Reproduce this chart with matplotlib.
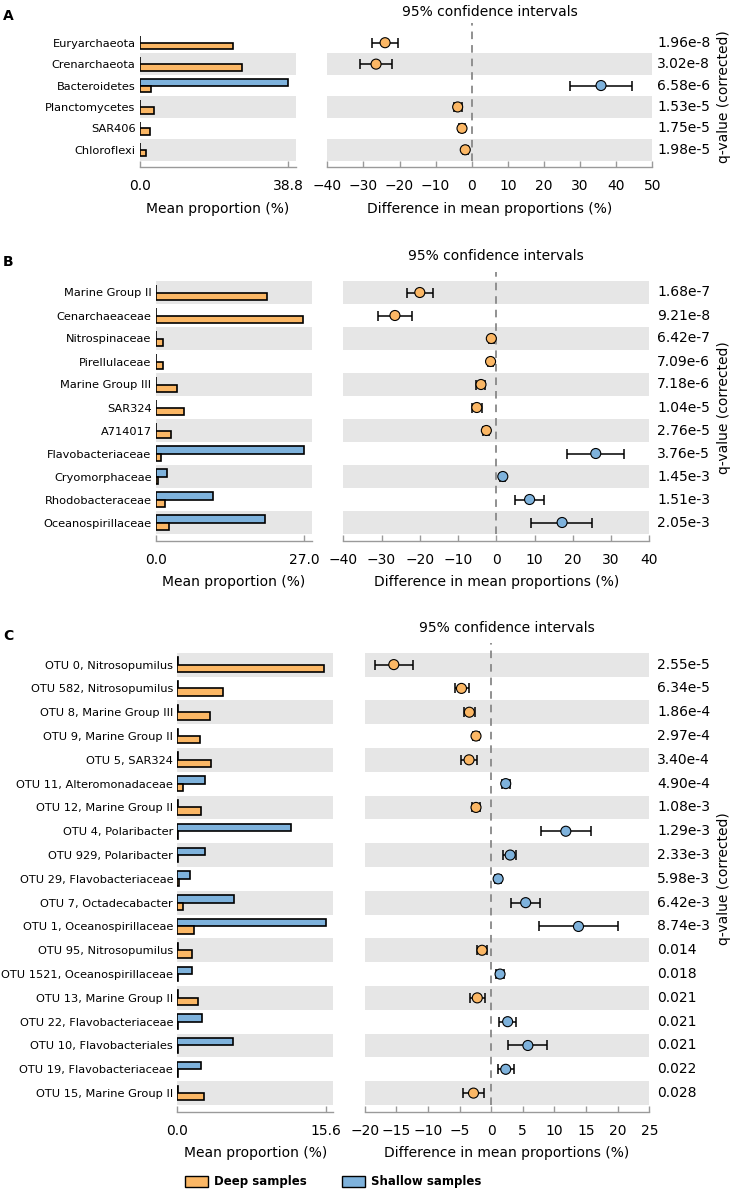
import matplotlib
matplotlib.use('Agg')
import matplotlib.pyplot as plt
from matplotlib.transforms import blended_transform_factory
from matplotlib.patches import Rectangle
import numpy as np

plt.rcParams['font.family'] = ['DejaVu Sans']

ORANGE = '#FBB765'
BLUE = '#7EB2DC'
BAND = '#E6E6E6'
SPINE = '#9A9A9A'

# ---------------- Panel A ----------------
labels_A = ['Euryarchaeota', 'Crenarchaeota', 'Bacteroidetes', 'Planctomycetes', 'SAR406', 'Chloroflexi']
deep_A = [24.3, 26.7, 3.0, 3.8, 2.8, 1.7]
shallow_A = [0.1, 0.1, 38.8, 0.1, 0.1, 0.1]
diff_A = [-24.0, -26.5, 35.8, -3.9, -2.7, -1.8]
lo_A = [-27.7, -30.9, 27.1, -5.0, -3.4, -2.5]
hi_A = [-20.3, -22.1, 44.4, -2.7, -2.0, -1.1]
q_A = ['1.96e-8', '3.02e-8', '6.58e-6', '1.53e-5', '1.75e-5', '1.98e-5']
max_A = 38.8
ticks_A = [-40, -30, -20, -10, 0, 10, 20, 30, 40, 50]

# ---------------- Panel B ----------------
labels_B = ['Marine Group II', 'Cenarchaeaceae', 'Nitrospinaceae', 'Pirellulaceae', 'Marine Group III',
            'SAR324', 'A714017', 'Flavobacteriaceae', 'Cryomorphaceae', 'Rhodobacteraceae', 'Oceanospirillaceae']
deep_B = [20.2, 26.7, 1.3, 1.4, 3.9, 5.2, 2.7, 1.0, 0.4, 1.6, 2.5]
shallow_B = [0.1, 0.1, 0.05, 0.05, 0.05, 0.05, 0.05, 27.0, 2.0, 10.4, 19.8]
diff_B = [-20.0, -26.5, -1.3, -1.5, -4.0, -5.1, -2.6, 26.0, 1.7, 8.7, 17.2]
lo_B = [-23.4, -30.9, -2.0, -2.2, -5.2, -6.4, -3.4, 18.6, 0.9, 5.0, 9.2]
hi_B = [-16.5, -22.0, -0.7, -0.8, -2.9, -3.7, -1.8, 33.4, 2.4, 12.5, 25.0]
q_B = ['1.68e-7', '9.21e-8', '6.42e-7', '7.09e-6', '7.18e-6', '1.04e-5', '2.76e-5', '3.76e-5',
       '1.45e-3', '1.51e-3', '2.05e-3']
max_B = 27.0
ticks_B = [-40, -30, -20, -10, 0, 10, 20, 30, 40]

# ---------------- Panel C ----------------
labels_C = ['OTU 0, Nitrosopumilus', 'OTU 582, Nitrosopumilus', 'OTU 8, Marine Group III',
            'OTU 9, Marine Group II', 'OTU 5, SAR324', 'OTU 11, Alteromonadaceae', 'OTU 12, Marine Group II',
            'OTU 4, Polaribacter', 'OTU 929, Polaribacter', 'OTU 29, Flavobacteriaceae',
            'OTU 7, Octadecabacter', 'OTU 1, Oceanospirillaceae', 'OTU 95, Nitrosopumilus',
            'OTU 1521, Oceanospirillaceae', 'OTU 13, Marine Group II', 'OTU 22, Flavobacteriaceae',
            'OTU 10, Flavobacteriales', 'OTU 19, Flavobacteriaceae', 'OTU 15, Marine Group II']
deep_C = [15.45, 4.75, 3.46, 2.38, 3.57, 0.63, 2.45, 0.1, 0.05, 0.15, 0.56, 1.8, 1.54, 0.1, 2.17,
          0.05, 0.05, 0.05, 2.83]
shallow_C = [0.05, 0.05, 0.05, 0.05, 0.05, 2.9, 0.05, 11.9, 2.87, 1.3, 6.0, 15.6, 0.05, 1.57, 0.05,
             2.6, 5.8, 2.5, 0.05]
diff_C = [-15.4, -4.7, -3.45, -2.4, -3.5, 2.3, -2.4, 11.8, 3.0, 1.1, 5.45, 13.8, -1.45, 1.4, -2.2,
          2.6, 5.8, 2.3, -2.8]
lo_C = [-18.4, -5.8, -4.3, -2.9, -4.7, 1.65, -3.1, 7.8, 1.9, 0.6, 3.1, 7.55, -2.2, 0.8, -3.35,
        1.2, 2.7, 1.1, -4.5]
hi_C = [-12.3, -3.5, -2.6, -1.9, -2.3, 2.95, -1.7, 15.8, 4.0, 1.6, 7.7, 20.0, -0.7, 2.1, -1.0,
        3.9, 8.9, 3.55, -1.15]
q_C = ['2.55e-5', '6.34e-5', '1.86e-4', '2.97e-4', '3.40e-4', '4.90e-4', '1.08e-3', '1.29e-3',
       '2.33e-3', '5.98e-3', '6.42e-3', '8.74e-3', '0.014', '0.018', '0.021', '0.021', '0.021',
       '0.022', '0.028']
max_C = 15.6
ticks_C = [-20, -15, -10, -5, 0, 5, 10, 15, 20, 25]

W, H = 735, 1191
fig = plt.figure(figsize=(W / 100, H / 100), dpi=100)


def box(x0, x1, y0, y1):
    return [x0 / W, 1 - y1 / H, (x1 - x0) / W, (y1 - y0) / H]


def draw_panel(letter, labels, deep, shallow, diff, lo, hi, qvals, lmax, rticks,
               rows_top, rows_bot, lx0, rx0, rx1, title_y, letter_y, xlabel_y):
    n = len(labels)
    ypos = np.arange(n)[::-1].astype(float)
    diff = np.array(diff); lo = np.array(lo); hi = np.array(hi)
    axL = fig.add_axes(box(lx0, lx0 + 156, rows_top, rows_bot))
    axR = fig.add_axes(box(rx0, rx1, rows_top, rows_bot))
    for ax in (axL, axR):
        ax.set_ylim(-0.5, n - 0.5)
        for j in range(0, n, 2):
            ax.axhspan(j - 0.5, j + 0.5, color=BAND, lw=0, zorder=0)
        for s in ('top', 'right', 'left'):
            ax.spines[s].set_visible(False)
        ax.spines['bottom'].set_position(('outward', 5))
        ax.spines['bottom'].set_color(SPINE)
        ax.spines['bottom'].set_linewidth(1.0)
        ax.tick_params(axis='x', direction='in', length=4.5, width=1, color=SPINE,
                       labelsize=10, pad=8.5)
        ax.patch.set_alpha(0)
    h = 0.31
    axL.barh(ypos + h / 2, shallow, height=h, color=BLUE, edgecolor='black', lw=1.2, zorder=2)
    axL.barh(ypos - h / 2, deep, height=h, color=ORANGE, edgecolor='black', lw=1.2, zorder=2)
    axL.set_xlim(0, lmax * 1.05)
    axL.set_xticks([0, lmax])
    axL.set_xticklabels(['0.0', f'{lmax:.1f}'])
    axL.set_yticks(ypos)
    axL.set_yticklabels(labels, fontsize=8.2)
    axL.tick_params(axis='y', length=0, pad=3)

    axR.set_xlim(rticks[0], rticks[-1])
    axR.set_xticks(rticks)
    axR.set_yticks([])
    axR.plot([0, 0], [-0.5, n - 0.1], ls=(0, (4.2, 3.3)), color='#888888', lw=1.3,
             clip_on=False, zorder=1)
    axR.errorbar(diff, ypos, xerr=[diff - lo, hi - diff], fmt='none', ecolor='black',
                 elinewidth=1.1, capsize=3.8, capthick=1.1, zorder=3)
    cols = [BLUE if d > 0 else ORANGE for d in diff]
    axR.scatter(diff, ypos, s=52, c=cols, edgecolors='black', linewidths=0.8, zorder=4)

    trans = blended_transform_factory(fig.transFigure, axR.transData)
    for y, q in zip(ypos, qvals):
        axR.text(657 / W, y, q, transform=trans, ha='left', va='center', fontsize=10)

    fig.text(724 / W, 1 - (rows_top + rows_bot) / 2 / H, 'q-value (corrected)', rotation=90,
             ha='center', va='center', fontsize=10)
    fig.text((rx0 + rx1) / 2 / W, 1 - title_y / H, '95% confidence intervals',
             ha='center', va='center', fontsize=10)
    fig.text(3 / W, 1 - letter_y / H, letter, fontweight='bold', fontsize=10,
             ha='left', va='center')
    fig.text((lx0 + 78) / W, 1 - xlabel_y / H, 'Mean proportion (%)', ha='center',
             va='center', fontsize=10)
    fig.text((rx0 + rx1) / 2 / W, 1 - xlabel_y / H, 'Difference in mean proportions (%)',
             ha='center', va='center', fontsize=10)


draw_panel('A', labels_A, deep_A, shallow_A, diff_A, lo_A, hi_A, q_A, max_A, ticks_A,
           32, 160.5, 139.7, 327.3, 652.3, 12, 16, 209)
draw_panel('B', labels_B, deep_B, shallow_B, diff_B, lo_B, hi_B, q_B, max_B, ticks_B,
           281, 534, 155.7, 343.3, 649.3, 256, 262, 582)
draw_panel('C', labels_C, deep_C, shallow_C, diff_C, lo_C, hi_C, q_C, max_C, ticks_C,
           652.7, 1105, 177.3, 364.7, 649.3, 628, 636, 1153)

# legend
for x0, col, txt in ((185, ORANGE, 'Deep samples'), (342, BLUE, 'Shallow samples')):
    fig.patches.append(Rectangle((x0 / W, 1 - 1187 / H), 23 / W, 11 / H, transform=fig.transFigure,
                                 facecolor=col, edgecolor='black', lw=1))
    fig.text((x0 + 29) / W, 1 - 1182 / H, txt, fontweight='bold', fontsize=8.5,
             ha='left', va='center')

fig.savefig('out.png', dpi=100)
